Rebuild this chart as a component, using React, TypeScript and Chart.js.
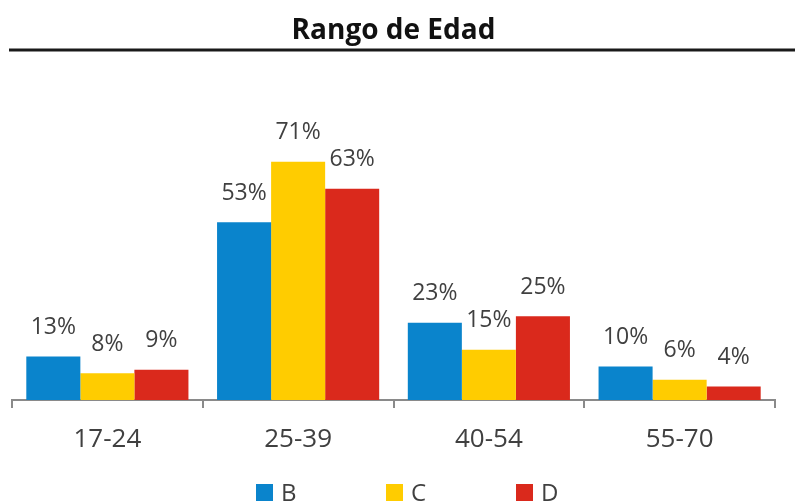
import React, { useEffect, useRef } from "react";
import { Chart, registerables } from "chart.js";

Chart.register(...registerables);

const titleText = "Rango de Edad";
const categories = ["17-24", "25-39", "40-54", "55-70"];
const seriesNames = ["B", "C", "D"];
const valuesB = [13, 53, 23, 10];
const valuesC = [8, 71, 15, 6];
const valuesD = [9, 63, 25, 4];
const seriesColors = ["#0a84cc", "#ffcc00", "#da291c"];

const FONT = "'Open Sans', 'DejaVu Sans', sans-serif";

const titleRule = {
  id: "titleRule",
  afterDraw(chart: any) {
    const ctx = chart.ctx;
    ctx.save();
    ctx.strokeStyle = "#1a1a1a";
    ctx.lineWidth = 3;
    ctx.beginPath();
    ctx.moveTo(9, 50);
    ctx.lineTo(chart.width, 50);
    ctx.stroke();
    ctx.restore();
  },
};

const valueLabels = {
  id: "valueLabels",
  afterDatasetsDraw(chart: any) {
    const ctx = chart.ctx;
    ctx.save();
    ctx.font = `23px ${FONT}`;
    ctx.fillStyle = "#404040";
    ctx.textAlign = "center";
    ctx.textBaseline = "middle";
    chart.data.datasets.forEach((ds: any, i: number) => {
      const meta = chart.getDatasetMeta(i);
      meta.data.forEach((el: any, j: number) => {
        ctx.fillText(`${ds.data[j]}%`, el.x, el.y - 29);
      });
    });
    ctx.restore();
  },
};

const customLegend = {
  id: "customLegend",
  afterDraw(chart: any) {
    const ctx = chart.ctx;
    ctx.save();
    ctx.font = `24px ${FONT}`;
    ctx.textBaseline = "alphabetic";
    ctx.textAlign = "left";
    const startX = 256;
    const step = 130;
    chart.data.datasets.forEach((ds: any, i: number) => {
      const x = startX + i * step;
      ctx.fillStyle = ds.backgroundColor;
      ctx.fillRect(x, 484, 17, 18);
      ctx.fillStyle = "#404040";
      ctx.fillText(ds.label, x + 25, 501);
    });
    ctx.restore();
  },
};

export default function App() {
  const canvasRef = useRef<HTMLCanvasElement | null>(null);

  useEffect(() => {
    if (!canvasRef.current) return;
    const seriesValues = [valuesB, valuesC, valuesD];
    const chart = new Chart(canvasRef.current, {
      type: "bar",
      data: {
        labels: categories,
        datasets: seriesNames.map((name, i) => ({
          label: name,
          data: seriesValues[i],
          backgroundColor: seriesColors[i],
          borderWidth: 0,
          categoryPercentage: 0.85,
          barPercentage: 1,
        })),
      },
      options: {
        animation: false,
        responsive: false,
        devicePixelRatio: 1,
        layout: { padding: { left: 12, right: 20, top: 0, bottom: 0 } },
        plugins: {
          legend: { display: false },
          tooltip: { enabled: false },
          title: {
            display: true,
            text: titleText,
            color: "#111111",
            font: { family: FONT, size: 28, weight: "bold" },
            padding: { top: 14, bottom: 84 },
          },
        },
        scales: {
          x: {
            grid: {
              display: true,
              drawOnChartArea: false,
              drawTicks: true,
              tickLength: 8,
              color: "#8a8a8a",
              lineWidth: 2,
              offset: true,
            },
            border: { display: true, color: "#8a8a8a", width: 2 },
            ticks: {
              color: "#404040",
              font: { family: FONT, size: 26 },
              padding: 16,
            },
            afterFit(scale: any) {
              scale.height = 101;
            },
          },
          y: {
            display: false,
            min: 0,
            max: 80,
          },
        },
      },
      plugins: [titleRule, valueLabels, customLegend],
    });
    return () => chart.destroy();
  }, []);

  return (
    <div style={{ position: "absolute", left: 0, top: 0, width: 795, height: 501, background: "#fff" }}>
      <canvas ref={canvasRef} width={795} height={501} />
    </div>
  );
}
